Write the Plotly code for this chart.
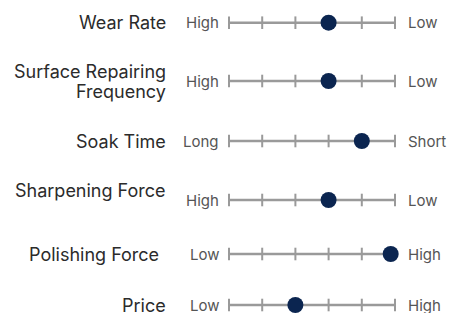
import plotly.graph_objects as go

# ---- data ----
attributes = ["Wear Rate", "Surface Repairing\nFrequency", "Soak Time",
              "Sharpening Force", "Polishing Force", "Price"]
left_labels = ["High", "High", "Long", "High", "Low", "Low"]
right_labels = ["Low", "Low", "Short", "Low", "High", "High"]
scores = [3, 3, 4, 3, 4.87, 2]
scale_ticks = [0, 1, 2, 3, 4, 5]

# ---- layout (pixel positions of rows, label tweaks) ----
W, H = 449, 313
row_y = [22.7, 81, 141, 200, 254, 305]
label_dy = [0, 0, 0, -10, 0, 0]
label_dx = [0, 0, 0, 0, -7, 0]
x0_px, x1_px = 229, 395
ppu = (x1_px - x0_px) / (scale_ticks[-1] - scale_ticks[0])
xmin = scale_ticks[0] - x0_px / ppu
xmax = xmin + W / ppu

LINE_C = "#9a9a9a"
DOT_C = "#0b2550"
FONT = "Inter"

fig = go.Figure()
for i, y in enumerate(row_y):
    fig.add_trace(go.Scatter(
        x=scale_ticks, y=[y] * len(scale_ticks), mode="lines+markers",
        line=dict(color=LINE_C, width=2.5),
        marker=dict(symbol="line-ns", size=9, line=dict(color=LINE_C, width=2)),
        hoverinfo="skip", showlegend=False))
fig.add_trace(go.Scatter(
    x=scores, y=row_y, mode="markers",
    marker=dict(color=DOT_C, size=16, line=dict(width=0)),
    showlegend=False))

for i, y in enumerate(row_y):
    lines = attributes[i].split("\n")
    n = len(lines)
    for j, t in enumerate(lines):
        fig.add_annotation(x=scale_ticks[0], y=y, text=t, showarrow=False,
                           xanchor="right", yanchor="middle",
                           xshift=-61 + label_dx[i],
                           yshift=-(label_dy[i]) + ((n - 1) / 2 - j) * 20,
                           font=dict(family=FONT, size=18, color="#2b2b2b"))
    fig.add_annotation(x=scale_ticks[0], y=y, text=left_labels[i], showarrow=False,
                       xanchor="right", yanchor="middle", xshift=-8,
                       font=dict(family=FONT, size=15, color="#555555"))
    fig.add_annotation(x=scale_ticks[-1], y=y, text=right_labels[i], showarrow=False,
                       xanchor="left", yanchor="middle", xshift=11,
                       font=dict(family=FONT, size=15, color="#555555"))

fig.update_layout(
    width=W, height=H, margin=dict(l=0, r=0, t=0, b=0),
    plot_bgcolor="white", paper_bgcolor="white",
    xaxis=dict(range=[xmin, xmax], visible=False, fixedrange=True),
    yaxis=dict(range=[H, 0], visible=False, fixedrange=True),
)
fig.write_html("out.html", config={"displayModeBar": False},
               post_script="document.body.style.margin='0';document.body.style.overflow='hidden';")
